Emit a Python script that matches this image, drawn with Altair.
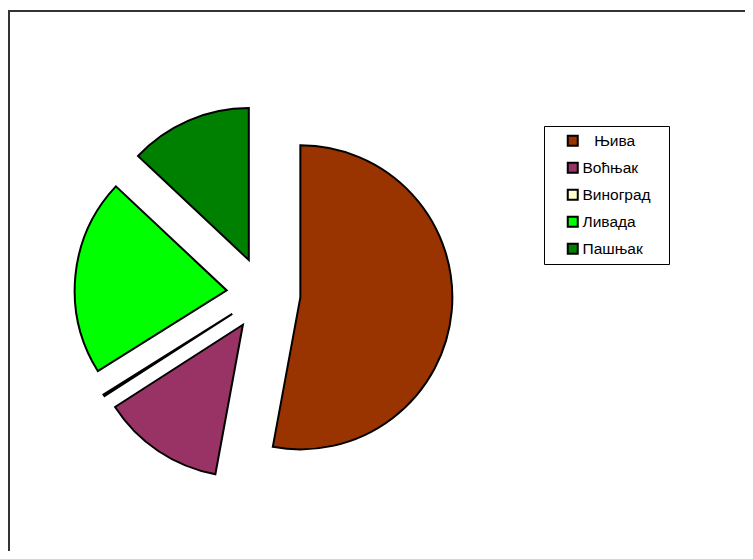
import altair as alt
import pandas as pd

# Data
categories = ["Њива", "Воћњак", "Виноград", "Ливада", "Пашњак"]
values = [52.9, 13.0, 0.2, 20.9, 13.0]
colors = ["#993300", "#993366", "#FFFFCC", "#00FF00", "#008000"]

W, H = 737, 543
CX, CY = 255.5, 286.0   # pie centre (before explosion)
R = 152                 # pie radius
D = 37                  # explosion distance

df = pd.DataFrame({"category": categories, "value": values, "order": list(range(len(categories)))})

pie = (
    alt.Chart(df)
    .transform_window(cum="sum(value)", sort=[alt.SortField("order")], frame=[None, 0])
    .transform_joinaggregate(total="sum(value)")
    .transform_calculate(
        t0="2*PI*(datum.cum - datum.value)/datum.total",
        t1="2*PI*datum.cum/datum.total",
    )
    .transform_calculate(mid="(datum.t0 + datum.t1)/2")
    .transform_calculate(
        px=f"{CX} + {D}*sin(datum.mid)",
        py=f"{CY} - {D}*cos(datum.mid)",
    )
    .mark_arc(outerRadius=R, stroke="black", strokeWidth=2, strokeJoin="miter")
    .encode(
        theta=alt.Theta("t0:Q", scale=None, stack=False),
        theta2="t1:Q",
        x=alt.X("px:Q", scale=None),
        y=alt.Y("py:Q", scale=None),
        color=alt.Color(
            "category:N",
            scale=alt.Scale(domain=categories, range=colors),
            legend=alt.Legend(
                orient="none",
                legendX=557,
                legendY=125,
                title=None,
                padding=0,
                symbolType="square",
                symbolSize=100,
                symbolStrokeColor="black",
                symbolStrokeWidth=2,
                symbolOpacity=1,
                labelFont="Liberation Sans",
                labelFontSize=15.5,
                labelColor="black",
                labelOffset=2,
                rowPadding=8,
                labelExpr="datum.label == '" + categories[0] + "' ? '\\u200b\\u2002\\u2005' + datum.label : datum.label",
            ),
        ),
        order=alt.Order("order:Q"),
    )
)

one = pd.DataFrame({"a": [0]})

frame_top = alt.Chart(one).mark_rule(color="#333333", strokeWidth=2).encode(
    x=alt.value(0), x2=alt.value(W), y=alt.value(3)
)
frame_left = alt.Chart(one).mark_rule(color="#333333", strokeWidth=2).encode(
    x=alt.value(1), y=alt.value(2), y2=alt.value(H)
)
legend_box = alt.Chart(one).mark_rect(fill="white", stroke="black", strokeWidth=1).encode(
    x=alt.value(536.5), x2=alt.value(661.5), y=alt.value(118.5), y2=alt.value(256.5)
)

chart = (
    alt.layer(frame_top, frame_left, legend_box, pie)
    .properties(width=W, height=H, autosize=alt.AutoSizeParams(type="none"), padding=0)
    .configure_view(stroke=None)
)

chart.save("out.html", embed_options={"renderer": "svg", "actions": False})
